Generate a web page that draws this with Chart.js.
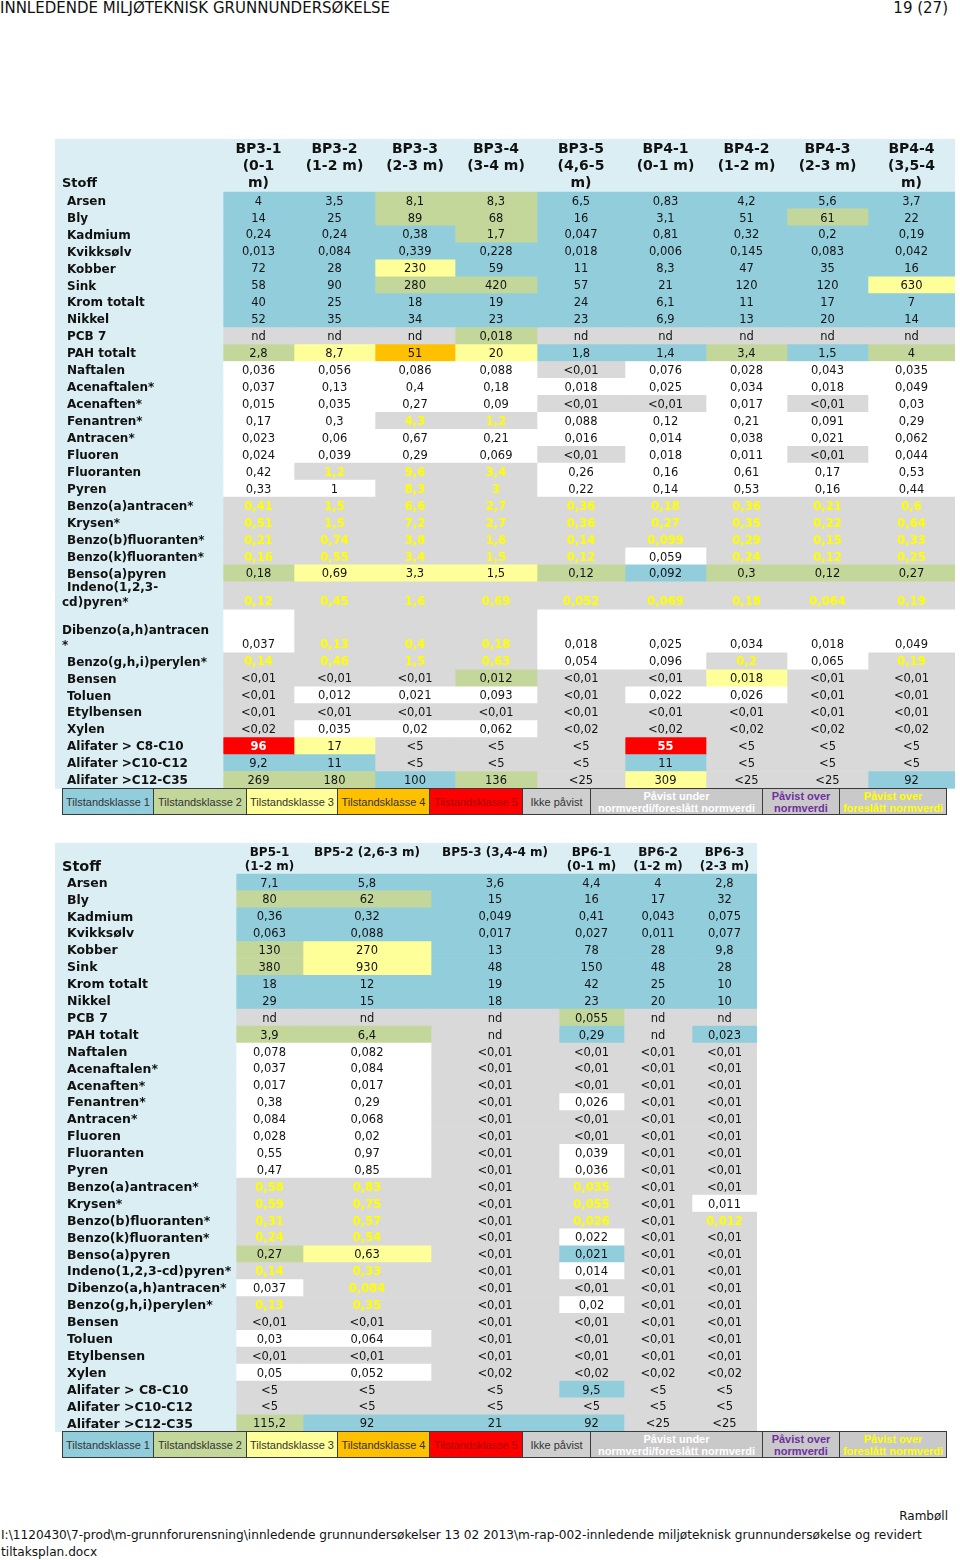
<!DOCTYPE html>
<html>
<head>
<meta charset="utf-8">
<title>Innledende miljøteknisk grunnundersøkelse – analyseresultater</title>
<script src="https://cdn.jsdelivr.net/npm/chart.js@4.4.1/dist/chart.umd.min.js"></script>
<style>
html,body{margin:0;padding:0;background:#fff;}
body{width:960px;height:1560px;position:relative;overflow:hidden;font-family:"DejaVu Sans",Verdana,sans-serif;color:#111;}
.abs{position:absolute;white-space:nowrap;}
#pageTitle{left:0;top:1px;font-size:15px;line-height:15px;}
#pageNo{right:12px;top:1px;font-size:15px;line-height:15px;}
#firm{right:12px;top:1509px;font-size:12px;line-height:15px;}
#path{left:1px;top:1527px;font-size:12.15px;line-height:17px;}
canvas{position:absolute;display:block;}
.lg{position:absolute;box-sizing:border-box;border:1px solid #3a3a3a;font-family:"Liberation Sans",Arial,sans-serif;font-size:11px;line-height:12px;display:flex;align-items:center;justify-content:center;text-align:center;white-space:nowrap;overflow:hidden;}
</style>
</head>
<body>
<div class="abs" id="pageTitle">INNLEDENDE MILJØTEKNISK GRUNNUNDERSØKELSE</div>
<div class="abs" id="pageNo">19 (27)</div>
<canvas id="tableTop"></canvas>
<canvas id="tableBottom"></canvas>
<div id="legendTop"></div>
<div id="legendBottom"></div>
<div class="abs" id="firm">Rambøll</div>
<div class="abs" id="path">I:\1120430\7-prod\m-grunnforurensning\innledende grunnundersøkelser 13 02 2013\m-rap-002-innledende miljøteknisk grunnundersøkelse og revidert<br>tiltaksplan.docx</div>
<script>
// ================= DATA =================
const substances = ['Arsen','Bly','Kadmium','Kvikksølv','Kobber','Sink','Krom totalt','Nikkel','PCB 7','PAH totalt',
  'Naftalen','Acenaftalen*','Acenaften*','Fenantren*','Antracen*','Fluoren','Fluoranten','Pyren',
  'Benzo(a)antracen*','Krysen*','Benzo(b)fluoranten*','Benzo(k)fluoranten*','Benso(a)pyren',
  'Indeno(1,2,3-cd)pyren*','Dibenzo(a,h)antracen*','Benzo(g,h,i)perylen*','Bensen','Toluen','Etylbensen','Xylen',
  'Alifater > C8-C10','Alifater >C10-C12','Alifater >C12-C35'];

// column headings (tick labels)
const headTop = [['BP3-1','(0-1','m)'],['BP3-2','(1-2 m)'],['BP3-3','(2-3 m)'],['BP3-4','(3-4 m)'],['BP3-5','(4,6-5','m)'],
  ['BP4-1','(0-1 m)'],['BP4-2','(1-2 m)'],['BP4-3','(2-3 m)'],['BP4-4','(3,5-4','m)']];
const headBottom = [['BP5-1','(1-2 m)'],['BP5-2 (2,6-3 m)'],['BP5-3 (3,4-4 m)'],['BP6-1','(0-1 m)'],['BP6-2','(1-2 m)'],['BP6-3','(2-3 m)']];

// values per sample (mg/kg) and tilstandsklasse code per cell
// b=klasse1 g=klasse2 y=klasse3 o=klasse4 r=klasse5 n=ikke påvist w=påvist under normverdi p=påvist over foreslått normverdi
const bp31 = ['4','14','0,24','0,013','72','58','40','52','nd','2,8','0,036','0,037','0,015','0,17','0,023','0,024','0,42','0,33','0,41','0,51','0,21','0,16','0,18','0,12','0,037','0,14','<0,01','<0,01','<0,01','<0,02','96','9,2','269'];
const bp31c = 'bbbbbbbbngwwwwwwwwppppgpwpnnnnrbg';
const bp32 = ['3,5','25','0,24','0,084','28','90','25','35','nd','8,7','0,056','0,13','0,035','0,3','0,06','0,039','1,2','1','1,5','1,5','0,74','0,55','0,69','0,45','0,13','0,46','<0,01','0,012','<0,01','0,035','17','11','180'];
const bp32c = 'bbbbbbbbnywwwwwwpwppppypppnwnwybg';
const bp33 = ['8,1','89','0,38','0,339','230','280','18','34','nd','51','0,086','0,4','0,27','4,3','0,67','0,29','9,6','8,3','6,6','7,2','3,8','3,4','3,3','1,6','0,4','1,5','<0,01','0,021','<0,01','0,02','<5','<5','100'];
const bp33c = 'ggbbygbbnowwwpwwppppppypppnwnwnnb';
const bp34 = ['8,3','68','1,7','0,228','59','420','19','23','0,018','20','0,088','0,18','0,09','1,2','0,21','0,069','3,4','3','2,7','2,7','1,6','1,5','1,5','0,69','0,18','0,63','0,012','0,093','<0,01','0,062','<5','<5','136'];
const bp34c = 'gggbbgbbgywwwpwwppppppypppgwnwnng';
const bp35 = ['6,5','16','0,047','0,018','11','57','24','23','nd','1,8','<0,01','0,018','<0,01','0,088','0,016','<0,01','0,26','0,22','0,36','0,36','0,14','0,12','0,12','0,052','0,018','0,054','<0,01','<0,01','<0,01','<0,02','<5','<5','<25'];
const bp35c = 'bbbbbbbbnbnwnwwnwwppppgpwwnnnnnnn';
const bp41 = ['0,83','3,1','0,81','0,006','8,3','21','6,1','6,9','nd','1,4','0,076','0,025','<0,01','0,12','0,014','0,018','0,16','0,14','0,18','0,27','0,099','0,059','0,092','0,069','0,025','0,096','<0,01','0,022','<0,01','<0,02','55','11','309'];
const bp41c = 'bbbbbbbbnbwwnwwwwwpppwbpwwnwnnrby';
const bp42 = ['4,2','51','0,32','0,145','47','120','11','13','nd','3,4','0,028','0,034','0,017','0,21','0,038','0,011','0,61','0,53','0,36','0,35','0,29','0,24','0,3','0,18','0,034','0,2','0,018','0,026','<0,01','<0,02','<5','<5','<25'];
const bp42c = 'bbbbbbbbngwwwwwwwwppppgpwpywnnnnn';
const bp43 = ['5,6','61','0,2','0,083','35','120','17','20','nd','1,5','0,043','0,018','<0,01','0,091','0,021','<0,01','0,17','0,16','0,21','0,22','0,15','0,12','0,12','0,064','0,018','0,065','<0,01','<0,01','<0,01','<0,02','<5','<5','<25'];
const bp43c = 'bgbbbbbbnbwwnwwnwwppppgpwwnnnnnnn';
const bp44 = ['3,7','22','0,19','0,042','16','630','7','14','nd','4','0,035','0,049','0,03','0,29','0,062','0,044','0,53','0,44','0,6','0,64','0,33','0,25','0,27','0,19','0,049','0,19','<0,01','<0,01','<0,01','<0,02','<5','<5','92'];
const bp44c = 'bbbbbybbngwwwwwwwwppppgpwpnnnnnnb';

const bp51 = ['7,1','80','0,36','0,063','130','380','18','29','nd','3,9','0,078','0,037','0,017','0,38','0,084','0,028','0,55','0,47','0,58','0,59','0,31','0,24','0,27','0,14','0,037','0,13','<0,01','0,03','<0,01','0,05','<5','<5','115,2'];
const bp51c = 'bgbbggbbngwwwwwwwwppppgpwpnwnwnng';
const bp52 = ['5,8','62','0,32','0,088','270','930','12','15','nd','6,4','0,082','0,084','0,017','0,29','0,068','0,02','0,97','0,85','0,83','0,75','0,57','0,54','0,63','0,33','0,084','0,35','<0,01','0,064','<0,01','0,052','<5','<5','92'];
const bp52c = 'bgbbyybbngwwwwwwwwppppypppnwnwnnb';
const bp53 = ['3,6','15','0,049','0,017','13','48','19','18','nd','nd','<0,01','<0,01','<0,01','<0,01','<0,01','<0,01','<0,01','<0,01','<0,01','<0,01','<0,01','<0,01','<0,01','<0,01','<0,01','<0,01','<0,01','<0,01','<0,01','<0,02','<5','<5','21'];
const bp53c = 'bbbbbbbbnnnnnnnnnnnnnnnnnnnnnnnnb';
const bp61 = ['4,4','16','0,41','0,027','78','150','42','23','0,055','0,29','<0,01','<0,01','<0,01','0,026','<0,01','<0,01','0,039','0,036','0,035','0,055','0,026','0,022','0,021','0,014','<0,01','0,02','<0,01','<0,01','<0,01','<0,02','9,5','<5','92'];
const bp61c = 'bbbbbbbbgbnnnwnnwwpppwbwnwnnnnbnb';
const bp62 = ['4','17','0,043','0,011','28','48','25','20','nd','nd','<0,01','<0,01','<0,01','<0,01','<0,01','<0,01','<0,01','<0,01','<0,01','<0,01','<0,01','<0,01','<0,01','<0,01','<0,01','<0,01','<0,01','<0,01','<0,01','<0,02','<5','<5','<25'];
const bp62c = 'bbbbbbbbnnnnnnnnnnnnnnnnnnnnnnnnn';
const bp63 = ['2,8','32','0,075','0,077','9,8','28','10','10','nd','0,023','<0,01','<0,01','<0,01','<0,01','<0,01','<0,01','<0,01','<0,01','<0,01','0,011','0,012','<0,01','<0,01','<0,01','<0,01','<0,01','<0,01','<0,01','<0,01','<0,02','<5','<5','<25'];
const bp63c = 'bbbbbbbbnbnnnnnnnnnwpnnnnnnnnnnnn';

const legendLabels = ['Tilstandsklasse 1','Tilstandsklasse 2','Tilstandsklasse 3','Tilstandsklasse 4','Tilstandsklasse 5','Ikke påvist',
  ['Påvist under','normverdi/foreslått normverdi'],['Påvist over','normverdi'],['Påvist over','foreslått normverdi']];

// ================= STYLE / LAYOUT =================
const HEAD_BG = '#DAEEF3';
const CELL = {
  b:{bg:'#92CDDC', fg:'#141414', bold:false},
  g:{bg:'#C4D79B', fg:'#141414', bold:false},
  y:{bg:'#FFFF99', fg:'#141414', bold:false},
  o:{bg:'#FFC000', fg:'#141414', bold:false},
  r:{bg:'#FF0000', fg:'#FFFFFF', bold:true},
  n:{bg:'#D9D9D9', fg:'#141414', bold:false},
  w:{bg:'#FFFFFF', fg:'#141414', bold:false},
  p:{bg:'#D9D9D9', fg:'#FFFF00', bold:true}
};
const LEGEND_STYLE = [
  {bg:'#92CDDC', fg:'#333'}, {bg:'#C4D79B', fg:'#333'}, {bg:'#FFFF99', fg:'#333'}, {bg:'#FFC000', fg:'#333'},
  {bg:'#FF0000', fg:'#A80000'}, {bg:'#CFCFCF', fg:'#333'}, {bg:'#C9C9C9', fg:'#FFFFFF', bold:true},
  {bg:'#C9C9C9', fg:'#7030A0', bold:true}, {bg:'#C9C9C9', fg:'#FFFF00', bold:true}];
const LEGEND_EDGES = [62,153,246,337,429,522,590,762,839,946];
const FONT = '"DejaVu Sans", Verdana, sans-serif';

const topLayout = {
  left:55, top:139,
  colEdges:[0,168,239,320,400,482,570,651,732,813,900],
  headerH:53,
  rowH: substances.map((s,i)=> i===23 ? 28 : i===24 ? 43 : 16.95),
  wraps: {23:[[12,'Indeno(1,2,3-'],[7,'cd)pyren*']], 24:[[7,'Dibenzo(a,h)antracen'],[7,'*']]},
  stoffFont:'bold 13px '+FONT, stoffBase:5.3,
  headFont:'bold 14px '+FONT, headFirst:14, headLineH:17,
  labelFont:'bold 12px '+FONT, labelLineH:14.5,
  valueSize:11.5, legendTop:788
};
const bottomLayout = {
  left:55, top:843,
  colEdges:[0,181,248,376,504,569,637,702],
  headerH:31,
  rowH: substances.map(()=>16.9),
  wraps:{},
  stoffFont:'bold 14.5px '+FONT, stoffBase:2.8,
  headFont:'bold 12px '+FONT, headFirst:13.4, headLineH:14,
  labelFont:'bold 12.5px '+FONT, labelLineH:14.5,
  valueSize:11.5, legendTop:1431
};

// ================= CHART BUILD =================
const cellTextPlugin = {
  id:'cellText',
  afterDatasetsDraw(chart){
    const ctx = chart.ctx;
    ctx.save();
    chart.data.datasets.forEach((ds, di) => {
      const meta = chart.getDatasetMeta(di);
      meta.data.forEach((el, j) => {
        const p = el.getProps(['x','y','base','width'], true);
        const top = Math.min(p.y, p.base), bottom = Math.max(p.y, p.base);
        const left = p.x - p.width/2, right = p.x + p.width/2;
        const st = ds.cellStyles[j];
        ctx.font = st.font; ctx.fillStyle = st.color; ctx.textBaseline = 'alphabetic';
        const n = st.lines.length;
        st.lines.forEach((ln, k) => {
          const y = st.valign === 'top' ? top + st.first + k*st.lineH : bottom - st.last - (n-1-k)*st.lineH;
          if (st.align === 'left') { ctx.textAlign = 'left'; ctx.fillText(ln.text, left + ln.dx, y); }
          else { ctx.textAlign = 'center'; ctx.fillText(ln.text, (left+right)/2, y); }
        });
      });
    });
    ctx.restore();
  }
};

function buildTable(canvasId, headers, valueCols, classCols, L) {
  const canvas = document.getElementById(canvasId);
  const yEdges = [0, L.headerH];
  L.rowH.forEach(h => yEdges.push(yEdges[yEdges.length-1] + h));
  const W = L.colEdges[L.colEdges.length-1];
  const H = Math.ceil(yEdges[yEdges.length-1]);
  canvas.width = W; canvas.height = H;
  canvas.style.left = L.left+'px'; canvas.style.top = L.top+'px';
  canvas.style.width = W+'px'; canvas.style.height = H+'px';

  const datasets = [];
  const nRows = substances.length;
  const nCols = headers.length + 1;
  for (let c = 0; c < nCols; c++) {
    const x0 = L.colEdges[c], x1 = L.colEdges[c+1];
    const data = [], bg = [], styles = [];
    for (let r = 0; r <= nRows; r++) {
      data.push({x:(x0+x1)/2, y:[yEdges[r], yEdges[r+1]]});
      if (r === 0) {
        bg.push(HEAD_BG);
        if (c === 0) styles.push({font:L.stoffFont, color:'#111', align:'left', valign:'bottom', last:L.stoffBase, lineH:0, lines:[{text:'Stoff', dx:7}]});
        else styles.push({font:L.headFont, color:'#111', align:'center', valign:'top', first:L.headFirst, lineH:L.headLineH, lines:headers[c-1].map(t=>({text:t}))});
      } else if (c === 0) {
        bg.push(HEAD_BG);
        const w = L.wraps[r-1];
        const lines = w ? w.map(([dx,t]) => ({text:t, dx})) : [{text:substances[r-1], dx:12}];
        styles.push({font:L.labelFont, color:'#111', align:'left', valign:'bottom', last:4.2, lineH:L.labelLineH, lines});
      } else {
        const cl = CELL[classCols[c-1][r-1]];
        bg.push(cl.bg);
        styles.push({font:(cl.bold?'bold ':'')+L.valueSize+'px '+FONT, color:cl.fg, align:'center', valign:'bottom', last:4.4, lineH:0, lines:[{text:valueCols[c-1][r-1]}]});
      }
    }
    datasets.push({
      label: c === 0 ? 'Stoff' : headers[c-1].join(' '),
      data, backgroundColor:bg, borderWidth:0, barThickness:x1-x0, stack:'table',
      cellStyles:styles
    });
  }

  new Chart(canvas, {
    type:'bar',
    data:{datasets},
    options:{
      responsive:false, animation:false, devicePixelRatio:1,
      layout:{padding:0},
      events:[],
      plugins:{legend:{display:false}, tooltip:{enabled:false}},
      scales:{
        x:{type:'linear', display:false, min:0, max:W, offset:false, bounds:'data'},
        y:{type:'linear', display:false, min:0, max:H, reverse:true, stacked:false, bounds:'data'}
      }
    },
    plugins:[cellTextPlugin]
  });
}

function buildLegend(id, top) {
  const box = document.getElementById(id);
  legendLabels.forEach((lab, i) => {
    const d = document.createElement('div');
    d.className = 'lg';
    const st = LEGEND_STYLE[i];
    d.style.left = LEGEND_EDGES[i] + 'px';
    d.style.top = top + 'px';
    d.style.width = (LEGEND_EDGES[i+1] - LEGEND_EDGES[i] + 1) + 'px';
    d.style.height = '27px';
    d.style.background = st.bg; d.style.color = st.fg;
    if (st.bold) d.style.fontWeight = 'bold';
    d.innerHTML = Array.isArray(lab) ? lab.join('<br>') : lab;
    box.appendChild(d);
  });
}

buildTable('tableTop', headTop, [bp31,bp32,bp33,bp34,bp35,bp41,bp42,bp43,bp44],
  [bp31c,bp32c,bp33c,bp34c,bp35c,bp41c,bp42c,bp43c,bp44c], topLayout);
buildTable('tableBottom', headBottom, [bp51,bp52,bp53,bp61,bp62,bp63],
  [bp51c,bp52c,bp53c,bp61c,bp62c,bp63c], bottomLayout);
buildLegend('legendTop', topLayout.legendTop);
buildLegend('legendBottom', bottomLayout.legendTop);
</script>
</body>
</html>
